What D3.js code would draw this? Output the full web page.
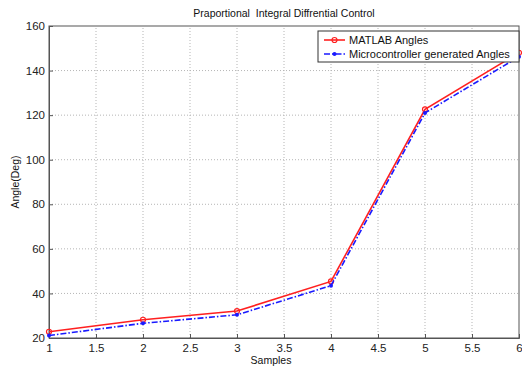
<!DOCTYPE html>
<html>
<head>
<meta charset="utf-8">
<script src="https://cdn.jsdelivr.net/npm/d3@7"></script>
<style>
  body { margin: 0; background: #fff; }
  svg { display: block; font-family: "Liberation Sans", Arial, sans-serif; }
</style>
</head>
<body>
<div id="chart"></div>
<script>
// Data
const samples = [1, 2, 3, 4, 5, 6];
const matlabAngles = [22.8, 28.2, 32.1, 45.4, 122.6, 148];
const microAngles = [21.1, 26.6, 30.4, 43.5, 121.0, 146.2];
const xTicks = [1, 1.5, 2, 2.5, 3, 3.5, 4, 4.5, 5, 5.5, 6];
const yTicks = [20, 40, 60, 80, 100, 120, 140, 160];
const seriesNames = ['MATLAB Angles', 'Microcontroller generated Angles'];

const width = 522, height = 369;
const margin = { top: 26, right: 3, bottom: 31, left: 49 };

const svg = d3.select('#chart')
  .append('svg')
  .attr('width', width)
  .attr('height', height);

const x = d3.scaleLinear().domain([1, 6]).range([margin.left, width - margin.right]);
const y = d3.scaleLinear().domain([20, 160]).range([height - margin.bottom, margin.top]);

// Grid
const grid = svg.append('g').attr('stroke', '#b5b5b5').attr('stroke-dasharray', '1,2').attr('stroke-width', 1);
grid.selectAll('line.vx')
  .data(xTicks.slice(1, -1))
  .join('line')
  .attr('x1', d => x(d)).attr('x2', d => x(d))
  .attr('y1', y(20)).attr('y2', y(160));
grid.selectAll('line.hy')
  .data(yTicks.slice(1, -1))
  .join('line')
  .attr('x1', x(1)).attr('x2', x(6))
  .attr('y1', d => y(d)).attr('y2', d => y(d));

// Frame
svg.append('rect')
  .attr('x', x(1)).attr('y', y(160))
  .attr('width', x(6) - x(1)).attr('height', y(20) - y(160))
  .attr('fill', 'none').attr('stroke', '#555').attr('stroke-width', 1);

// Axes
const xAxis = svg.append('g')
  .attr('transform', `translate(0,${y(20)})`)
  .call(d3.axisBottom(x).tickValues(xTicks).tickSize(-4).tickPadding(6).tickFormat(d3.format('')));
const yAxis = svg.append('g')
  .attr('transform', `translate(${x(1)},0)`)
  .call(d3.axisLeft(y).tickValues(yTicks).tickSize(-4).tickPadding(4));
[xAxis, yAxis].forEach(a => {
  a.select('.domain').attr('stroke', '#555');
  a.selectAll('.tick line').attr('stroke', '#555');
  a.selectAll('.tick text').attr('fill', '#222').style('font-size', '11.5px');
});

// Series
const line = d3.line().x((d, i) => x(samples[i])).y(d => y(d));

svg.append('path')
  .datum(matlabAngles)
  .attr('fill', 'none').attr('stroke', '#ff2020').attr('stroke-width', 1.6)
  .attr('d', line);
svg.selectAll('circle.m')
  .data(matlabAngles)
  .join('circle')
  .attr('cx', (d, i) => x(samples[i])).attr('cy', d => y(d)).attr('r', 2.5)
  .attr('fill', 'none').attr('stroke', '#ff2020').attr('stroke-width', 1.2);

svg.append('path')
  .datum(microAngles)
  .attr('fill', 'none').attr('stroke', '#1a1aff').attr('stroke-width', 1.6)
  .attr('stroke-dasharray', '6,2,1.5,2')
  .attr('d', line);
svg.selectAll('circle.c')
  .data(microAngles)
  .join('circle')
  .attr('cx', (d, i) => x(samples[i])).attr('cy', d => y(d)).attr('r', 2)
  .attr('fill', '#1a1aff');

// Title and labels
svg.append('text')
  .attr('x', 284).attr('y', 17)
  .attr('text-anchor', 'middle')
  .style('white-space', 'pre')
  .style('font-size', '10.5px').attr('fill', '#111')
  .text('Praportional  Integral Diffrential Control');
svg.append('text')
  .attr('x', (x(1) + x(6)) / 2 - 13).attr('y', 364)
  .attr('text-anchor', 'middle')
  .style('font-size', '10.5px').attr('fill', '#111')
  .text('Samples');
svg.append('text')
  .attr('transform', `translate(19,${(y(20) + y(160)) / 2}) rotate(-90)`)
  .attr('text-anchor', 'middle')
  .style('font-size', '10.5px').attr('fill', '#111')
  .text('Angle(Deg)');

// Legend
const lg = svg.append('g');
lg.append('rect')
  .attr('x', 318).attr('y', 31).attr('width', 201).attr('height', 31)
  .attr('fill', '#fff').attr('stroke', '#333').attr('stroke-width', 1);
seriesNames.forEach((name, i) => {
  const ly = 40 + i * 14;
  const g = lg.append('g');
  g.append('line')
    .attr('x1', 324).attr('x2', 345).attr('y1', ly).attr('y2', ly)
    .attr('stroke', i === 0 ? '#ff2020' : '#1a1aff').attr('stroke-width', 1.6)
    .attr('stroke-dasharray', i === 0 ? null : '6,2,1.5,2');
  g.append('circle')
    .attr('cx', 334.5).attr('cy', ly).attr('r', i === 0 ? 2.5 : 2)
    .attr('fill', i === 0 ? 'none' : '#1a1aff')
    .attr('stroke', i === 0 ? '#ff2020' : 'none').attr('stroke-width', 1.2);
  g.append('text')
    .attr('x', 349).attr('y', ly + 4)
    .style('font-size', '11px').attr('fill', '#111')
    .text(name);
});
</script>
</body>
</html>
